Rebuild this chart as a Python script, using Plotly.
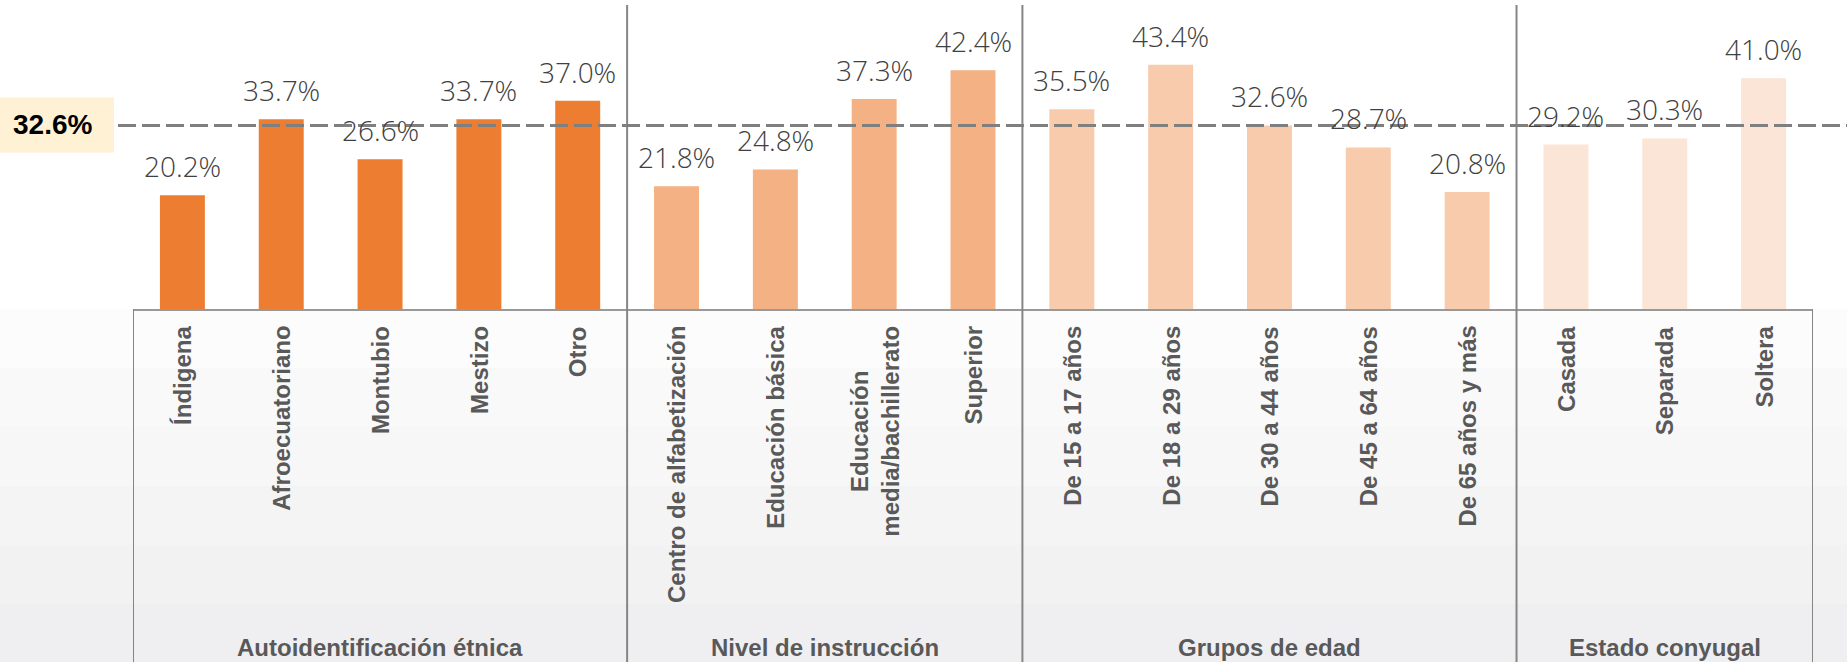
import plotly.graph_objects as go

# ---------------- data ----------------
grupos = ["Autoidentificación étnica", "Nivel de instrucción", "Grupos de edad", "Estado conyugal"]
cat_etnia = ["Índigena", "Afroecuatoriano", "Montubio", "Mestizo", "Otro"]
val_etnia = [20.2, 33.7, 26.6, 33.7, 37.0]
cat_instr = ["Centro de alfabetización", "Educación básica", "Educación media/bachillerato", "Superior"]
lab_instr = ["Centro de alfabetización", "Educación básica", "Educación<br>media/bachillerato", "Superior"]
val_instr = [21.8, 24.8, 37.3, 42.4]
cat_edad = ["De 15 a 17 años", "De 18 a 29 años", "De 30 a 44 años", "De 45 a 64 años", "De 65 años y más"]
val_edad = [35.5, 43.4, 32.6, 28.7, 20.8]
cat_conyu = ["Casada", "Separada", "Soltera"]
val_conyu = [29.2, 30.3, 41.0]
promedio = 32.6
colores_grupo = ["#ED7D31", "#F4B183", "#F8CBAD", "#FBE5D6"]

cats_por_grupo = [cat_etnia, cat_instr, cat_edad, cat_conyu]
labs_por_grupo = [cat_etnia, lab_instr, cat_edad, cat_conyu]
vals_por_grupo = [val_etnia, val_instr, val_edad, val_conyu]

categorias, etiquetas, valores, colores = [], [], [], []
limites = [-0.5]
for cs, ls, vs, col in zip(cats_por_grupo, labs_por_grupo, vals_por_grupo, colores_grupo):
    categorias += cs
    etiquetas += ls
    valores += vs
    colores += [col] * len(cs)
    limites.append(limites[-1] + len(cs))

# ---------------- layout constants ----------------
W, H = 1847, 662
ML, MR, MT, MB = 133, 34, 5, 353
PW = W - ML - MR
PH = H - MT - MB
YMAX = 54


def px_x(px):
    return (px - ML) / PW


def py_y(py):
    return (H - MB - py) / PH


GRIS_TXT = "#595959"
FONT_B = "Liberation Sans"

fig = go.Figure()
fig.add_trace(go.Bar(
    x=categorias, y=valores, width=0.455,
    marker=dict(color=colores, line=dict(width=0)),
    hoverinfo="x+y", showlegend=False,
))

shapes = []
# background of the category area (soft gray gradient)
bandas = ["#fcfcfc", "#f9f9fa", "#f7f7f8", "#f4f4f5", "#f2f2f3", "#efeff1"]
y_top, y_bot = 0.0, py_y(H)
for i, c in enumerate(bandas):
    a = y_top + (y_bot - y_top) * i / len(bandas)
    b = y_top + (y_bot - y_top) * (i + 1) / len(bandas)
    shapes.append(dict(type="rect", xref="paper", yref="paper", x0=px_x(0), x1=px_x(W),
                       y0=a, y1=b, fillcolor=c, line=dict(width=0), layer="below"))

# group boxes: vertical lines
for i, xb in enumerate(limites):
    top = 1.0 if 0 < i < len(limites) - 1 else 0.0
    shapes.append(dict(type="line", xref="x", yref="paper", x0=xb, x1=xb,
                       y0=y_bot, y1=top, line=dict(color="#858585", width=2)))

# average dashed line
shapes.append(dict(type="line", xref="paper", yref="y", x0=px_x(118), x1=px_x(W),
                   y0=promedio, y1=promedio,
                   line=dict(color="#7f7f7f", width=3, dash="18px,6px")))
# average label box
shapes.append(dict(type="rect", xref="paper", yref="y", ysizemode="pixel", yanchor=promedio,
                   x0=px_x(0), x1=px_x(114), y0=-27, y1=28,
                   fillcolor="#FFF2D4", line=dict(width=0)))

ann = []
ann.append(dict(xref="paper", yref="y", x=px_x(52), y=promedio, text=f"<b>{promedio:.1f}%</b>",
                showarrow=False, xanchor="center", yanchor="middle", yshift=1,
                font=dict(family=FONT_B, size=28, color="#000000")))

# value labels
for i, v in enumerate(valores):
    ann.append(dict(xref="x", yref="y", x=i, y=v, text=f"{v:.1f}%", showarrow=False,
                    xanchor="center", yanchor="middle", yshift=29,
                    font=dict(family="Open Sans", size=28, color="#404040", weight=300)))

# category labels (rotated)
for i, lab in enumerate(etiquetas):
    ann.append(dict(xref="x", yref="y", x=i, y=0, text=f"<b>{lab}</b>", showarrow=False,
                    textangle=-90, xanchor="center", yanchor="top", yshift=-15, align="center",
                    font=dict(family=FONT_B, size=24, color=GRIS_TXT)))

# group labels
for g, a, b in zip(grupos, limites[:-1], limites[1:]):
    ann.append(dict(xref="x", yref="paper", x=(a + b) / 2, y=py_y(648), text=f"<b>{g}</b>",
                    showarrow=False, xanchor="center", yanchor="middle",
                    font=dict(family=FONT_B, size=24, color=GRIS_TXT)))

fig.update_layout(
    width=W, height=H, autosize=False,
    margin=dict(l=ML, r=MR, t=MT, b=MB, pad=0),
    paper_bgcolor="#ffffff", plot_bgcolor="#ffffff",
    shapes=shapes, annotations=ann,
    bargap=0.5,
    xaxis=dict(type="category", range=[-0.5, len(categorias) - 0.5], showticklabels=False,
               ticks="", showgrid=False, zeroline=False, showline=True,
               linecolor="#999999", linewidth=2, fixedrange=True),
    yaxis=dict(range=[0, YMAX], visible=False, showgrid=False, zeroline=False, fixedrange=True),
)

fig.write_html("out.html", config={"displayModeBar": False},
               post_script="document.body.style.margin='0';document.body.style.overflow='hidden';")
